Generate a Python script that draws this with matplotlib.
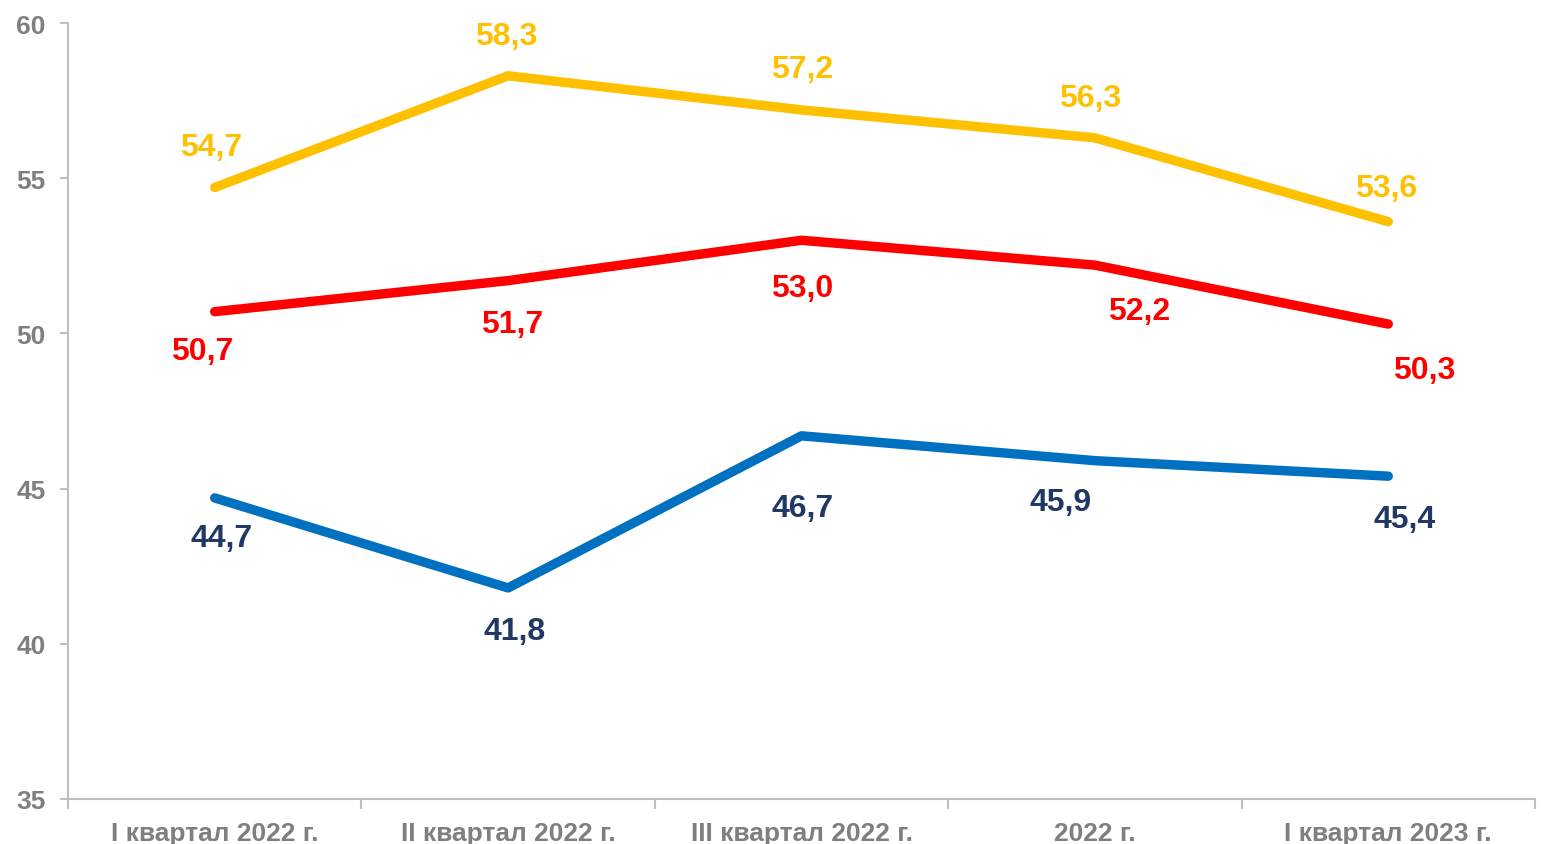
import matplotlib
matplotlib.use("Agg")
import matplotlib.pyplot as plt

categories = ["I квартал 2022 г.", "II квартал 2022 г.", "III квартал 2022 г.", "2022 г.", "I квартал 2023 г."]
yellow_vals = [54.7, 58.3, 57.2, 56.3, 53.6]
red_vals = [50.7, 51.7, 53.0, 52.2, 50.3]
blue_vals = [44.7, 41.8, 46.7, 45.9, 45.4]

y_ticks = [35, 40, 45, 50, 55, 60]

plt.rcParams['font.family'] = ['Liberation Sans', 'DejaVu Sans']

fig = plt.figure(figsize=(15.54, 8.45), dpi=100)
ax = fig.add_axes([68/1554, 1-800/845, (1535-68)/1554, (800-24)/845])

x = list(range(len(categories)))
series = [
    (yellow_vals, "#FFC000", "#FFC000",
     [(-4, 41), (-2, 40), (1, 41), (-5, 40), (-2, 34)]),
    (red_vals, "#FF0000", "#FF0000",
     [(-13, -39), (4, -43), (1, -48), (44, -46), (36, -46)]),
    (blue_vals, "#0070C0", "#1F3864",
     [(7, -40), (7, -43), (1, -72), (-34, -41), (16, -43)]),
]

for vals, lc, tc, offs in series:
    ax.plot(x, vals, color=lc, lw=6.8, solid_capstyle='round', solid_joinstyle='round', zorder=3)
    for xi, v, (dx, dy) in zip(x, vals, offs):
        ax.annotate(f"{v:.1f}".replace(".", ","), (xi, v), xytext=(dx, dy),
                    textcoords='offset pixels', ha='center', va='center',
                    fontsize=23, fontweight='bold', color=tc, zorder=4)

ax.set_xlim(-0.5, len(categories) - 0.5)
ax.set_ylim(35, 60)
ax.set_yticks(y_ticks)
ax.set_yticklabels([str(t) for t in y_ticks])
ax.set_xticks(x)
ax.set_xticklabels(categories)
ax.set_xticks([i - 0.5 for i in range(len(categories) + 1)], minor=True)

for s in ['top', 'right']:
    ax.spines[s].set_visible(False)
for s in ['left', 'bottom']:
    ax.spines[s].set_color('#BFBFBF')
    ax.spines[s].set_linewidth(1.5)

ax.tick_params(axis='y', colors='#BFBFBF', length=6, width=1.5, labelcolor='#7F7F7F',
               labelsize=19, pad=10)
ax.tick_params(axis='x', which='major', length=0, labelcolor='#7F7F7F', labelsize=19, pad=16)
ax.tick_params(axis='x', which='minor', length=7, width=1.5, colors='#BFBFBF')
for lbl in ax.get_xticklabels() + ax.get_yticklabels():
    lbl.set_fontweight('bold')

fig.savefig("out.png", dpi=100)
